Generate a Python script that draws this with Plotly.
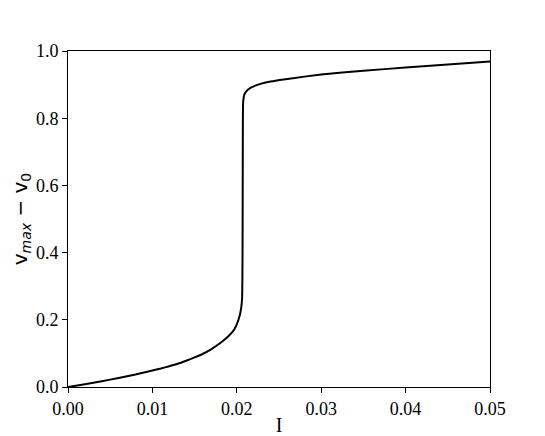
import plotly.graph_objects as go

# current I and amplitude v_max - v_0
current = [0.0, 0.002, 0.004, 0.006, 0.008, 0.010, 0.011, 0.012, 0.013, 0.014,
           0.015, 0.016, 0.017, 0.018, 0.019, 0.0197, 0.0202, 0.0205, 0.02063,
           0.02068, 0.0207, 0.02072, 0.02075, 0.0209, 0.0213, 0.0222, 0.0240,
           0.0260, 0.0300, 0.0350, 0.0400, 0.0450, 0.0500]
amplitude = [0.0, 0.008, 0.017, 0.027, 0.037, 0.049, 0.055, 0.062, 0.069, 0.078,
             0.088, 0.099, 0.113, 0.130, 0.151, 0.171, 0.200, 0.232, 0.265,
             0.40, 0.60, 0.80, 0.847, 0.871, 0.885, 0.897, 0.909,
             0.917, 0.930, 0.941, 0.951, 0.960, 0.969]

x_ticks = [0.0, 0.01, 0.02, 0.03, 0.04, 0.05]
x_tick_text = ["0.00", "0.01", "0.02", "0.03", "0.04", "0.05"]
y_ticks = [0.0, 0.2, 0.4, 0.6, 0.8, 1.0]
y_tick_text = ["0.0", "0.2", "0.4", "0.6", "0.8", "1.0"]

serif = "Liberation Serif"

fig = go.Figure()
fig.add_trace(go.Scatter(x=current, y=amplitude, mode="lines",
                         line=dict(color="black", width=2, shape="spline", smoothing=0.4),
                         showlegend=False))

axis_style = dict(showline=True, linecolor="black", linewidth=1, mirror=True,
                  showgrid=False, zeroline=False, ticks="outside", ticklen=5,
                  tickwidth=1, tickcolor="black", automargin=False)

fig.update_xaxes(range=[0, 0.05], tickvals=x_ticks, ticktext=x_tick_text,
                 title=dict(text="I", font=dict(family=serif, size=20, color="black"),
                            standoff=2),
                 **axis_style)
fig.update_yaxes(range=[0, 1], tickvals=y_ticks, ticktext=y_tick_text,
                 title=dict(text="v<sub><i>max</i></sub> − v<sub>0</sub>",
                            font=dict(family="DejaVu Sans", size=20, color="black"),
                            standoff=4),
                 **axis_style)
fig.update_xaxes(tickfont_family=serif, tickfont_size=18, tickfont_color="black")
fig.update_yaxes(tickfont_family=serif, tickfont_size=18, tickfont_color="black")

# page has an 8px body margin, so the figure is 8px smaller and shifted
fig.update_layout(width=537, height=428, plot_bgcolor="white", paper_bgcolor="white",
                  font=dict(family=serif, size=18, color="black"),
                  margin=dict(l=60, r=55, t=43, b=49))

fig.write_html("out.html")
